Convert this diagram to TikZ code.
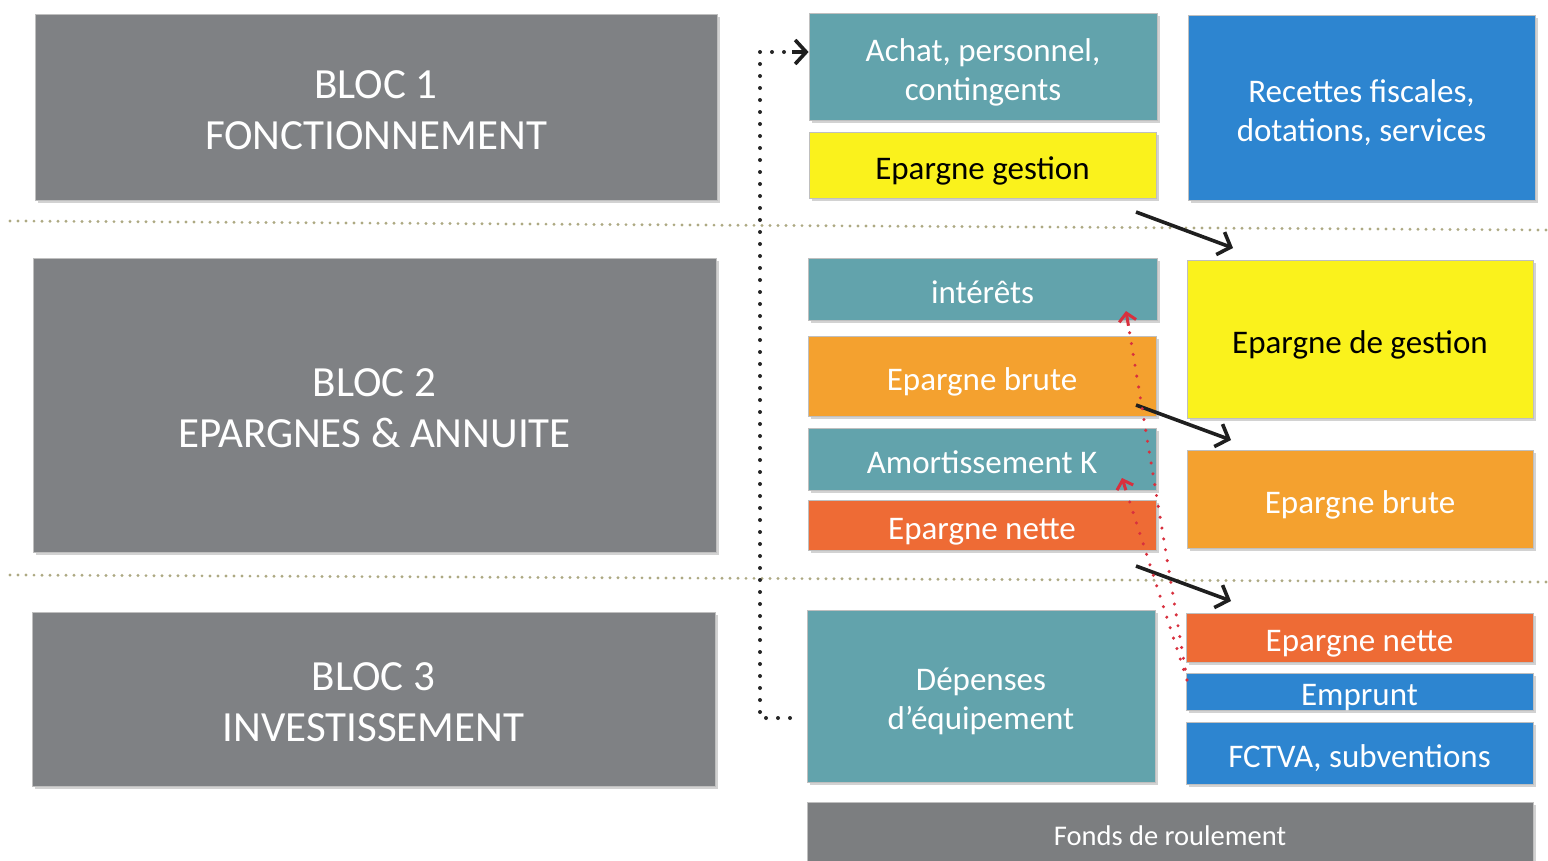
\documentclass[tikz,border=0pt]{standalone}
\usepackage{fontspec}
\setmainfont{Carlito}
\usetikzlibrary{arrows.meta,shadows,calc}
\definecolor{blocgray}{HTML}{7F8184}
\definecolor{fondsgray}{HTML}{7C7E80}
\definecolor{tealc}{HTML}{62A3AC}
\definecolor{bluec}{HTML}{2D85D0}
\definecolor{yellowc}{HTML}{FAF21C}
\definecolor{orangec}{HTML}{F4A12F}
\definecolor{redorange}{HTML}{EE6B35}
\definecolor{sepdots}{HTML}{ADA982}
\definecolor{reddots}{HTML}{D8303E}
\newcommand{\celltext}[1]{\raisebox{0pt}[\height][\dimexpr\depth-13pt\relax]{\begin{tabular}{@{}c@{}}#1\end{tabular}}}
\tikzset{
  box/.style={rectangle, inner sep=0pt, align=center, text=white,
    draw=black!25, line width=0.8pt,
    drop shadow={shadow xshift=2.5pt, shadow yshift=-2.5pt, opacity=0.35}},
  bloc/.style={box, fill=blocgray, font=\fontsize{43}{51}\selectfont},
  cell/.style={box, font=\fontsize{33}{39}\selectfont},
  sep/.style={draw=sepdots, line width=3.2pt, line cap=round, dash pattern=on 0pt off 8pt},
  blkdots/.style={draw=black!85, line width=4pt, line cap=round, dash pattern=on 0pt off 12pt},
  reddot/.style={draw=reddots, line width=3.4pt, line cap=round, dash pattern=on 0pt off 11pt},
  flow/.style={draw=black!88, line width=3.6pt, -{Straight Barb[length=11pt,width=24pt,line width=3.6pt]}},
}
\begin{document}
\begin{tikzpicture}[x=1pt,y=-1pt]
\clip (0,0) rectangle (1548,860);
\fill[white] (0,0) rectangle (1548,860);

% separators
\draw[sep] (10,221) -- (1548,230);
\draw[sep] (10,575) -- (1548,582);

% left blocks
\node[bloc, minimum width=682, minimum height=186] (b1) at (376,107) {\celltext{BLOC 1\\FONCTIONNEMENT}};
\node[bloc, minimum width=683, minimum height=294] (b2) at (374.5,405) {\celltext{BLOC 2\\EPARGNES \& ANNUITE}};
\node[bloc, minimum width=683, minimum height=174] (b3) at (373.5,699) {\celltext{BLOC 3\\INVESTISSEMENT}};

% block 1 cells
\node[cell, fill=tealc, minimum width=348, minimum height=107] (achat) at (983,66.5) {\celltext{Achat, personnel,\\contingents}};
\node[cell, fill=yellowc, text=black, minimum width=347, minimum height=66] (epg) at (982.5,165) {\celltext{Epargne gestion}};
\node[cell, fill=bluec, minimum width=347, minimum height=185] (rec) at (1361.5,107.5) {\celltext{Recettes fiscales,\\dotations, services}};

% block 2 cells
\node[cell, fill=tealc, minimum width=349, minimum height=62] (int) at (982.5,289) {\celltext{intérêts}};
\node[cell, fill=orangec, minimum width=348, minimum height=80] (ebl) at (982,376) {\celltext{Epargne brute}};
\node[cell, fill=tealc, minimum width=348, minimum height=62] (amk) at (982,459) {\celltext{Amortissement K}};
\node[cell, fill=redorange, minimum width=348, minimum height=50] (enl) at (982,525) {\celltext{Epargne nette}};
\node[cell, fill=yellowc, text=black, minimum width=346, minimum height=158] (edg) at (1360,339) {\celltext{Epargne de gestion}};
\node[cell, fill=orangec, minimum width=346, minimum height=98] (ebr) at (1360,499) {\celltext{Epargne brute}};

% block 3 cells
\node[cell, fill=tealc, minimum width=348, minimum height=172] (dep) at (981,696) {\celltext{Dépenses\\d’équipement}};
\node[cell, fill=redorange, minimum width=347, minimum height=49] (enr) at (1359.5,637.5) {\celltext{Epargne nette}};
\node[cell, fill=bluec, minimum width=347, minimum height=37] (emp) at (1359.5,691.5) {\celltext{Emprunt}};
\node[cell, fill=bluec, minimum width=347, minimum height=62] (fct) at (1359.5,753) {\celltext{FCTVA, subventions}};
\node[box, fill=fondsgray, font=\fontsize{28.5}{32}\selectfont, minimum width=726, minimum height=70] (fr) at (1170,837) {\raisebox{2pt}{Fonds de roulement}};

% black dotted connector
\coordinate (dstart) at (790,718);
\draw[blkdots] (dstart) -- (760,718) -- (760,52) -- (795,52);
\draw[black!88, line width=3.6pt, -{Straight Barb[length=11pt,width=24pt,line width=3.6pt]}] (792,52) -- ([yshift=14.5pt]achat.west);

% black arrows
\coordinate (a1s) at (1136,212);
\coordinate (a1e) at (1233,248);
\coordinate (a2s) at (1136,405);
\coordinate (a2e) at (1231,440);
\coordinate (a3s) at (1136,566);
\coordinate (a3e) at (1231,601);
\draw[flow] (a1s) -- (a1e);
\draw[flow] (a2s) -- (a2e);
\draw[flow] (a3s) -- (a3e);

% red dotted arrows
\coordinate (rs) at (1187,680);
\coordinate (r1) at (1126,311);
\coordinate (r2) at (1122,478);
\draw[reddot] (rs) -- ($(r1)!0.05!(rs)$);
\draw[reddot] (rs) -- ($(r2)!0.07!(rs)$);
\draw[draw=reddots, line width=3pt, -{Straight Barb[length=8pt,width=17pt,line width=3pt]}] ($(r1)!0.04!(rs)$) -- (r1);
\draw[draw=reddots, line width=3pt, -{Straight Barb[length=8pt,width=17pt,line width=3pt]}] ($(r2)!0.06!(rs)$) -- (r2);
\end{tikzpicture}
\end{document}
